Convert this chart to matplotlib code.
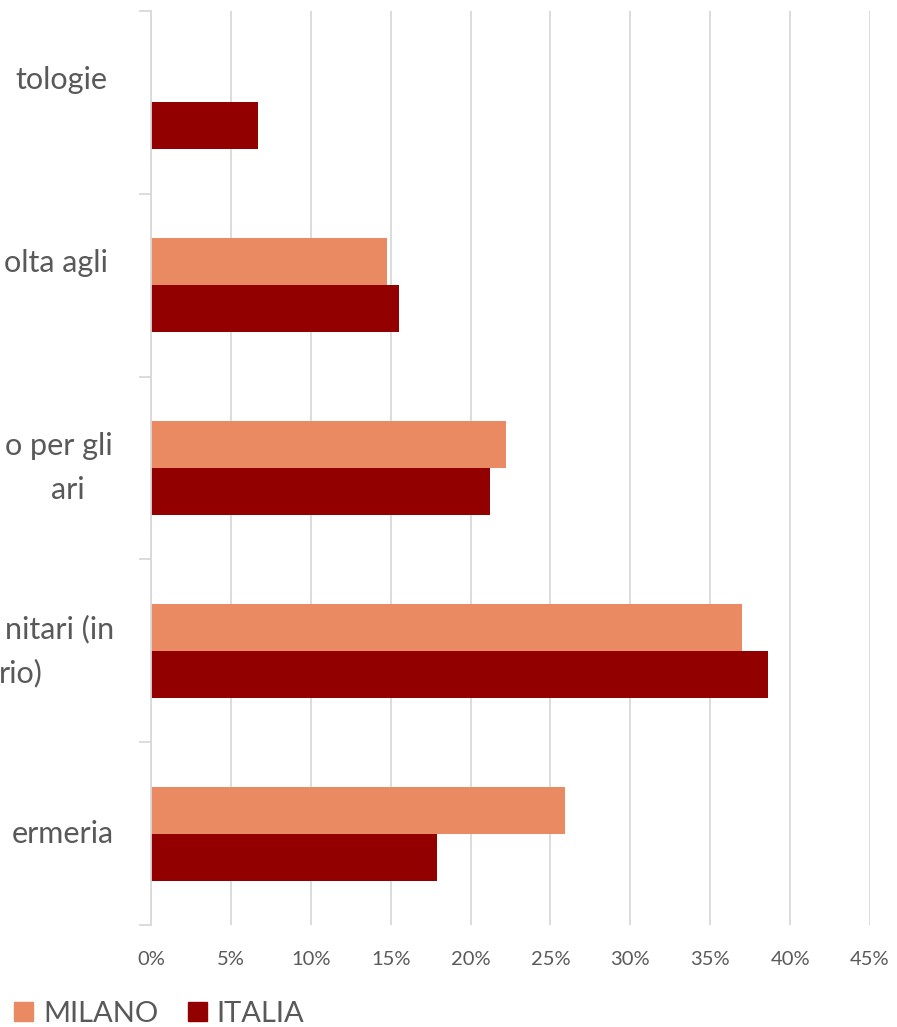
import numpy as np
import matplotlib
matplotlib.use("Agg")
import matplotlib.pyplot as plt
from matplotlib.patches import Patch

# dati (in frazione)
categorie = [["tologie", ""], ["olta agli", ""], ["o per gli", "ari"],
             ["nitari (in", "rio)"], ["ermeria"]]
milano = [0.0, 0.148, 0.222, 0.370, 0.259]
italia = [0.067, 0.155, 0.212, 0.386, 0.179]
ticks_x = [0, 0.05, 0.10, 0.15, 0.20, 0.25, 0.30, 0.35, 0.40, 0.45]
tick_labels = ["0%", "5%", "10%", "15%", "20%", "25%", "30%", "35%", "40%", "45%"]

col_milano = "#E98A62"
col_italia = "#920000"
grigio = "#595959"
linea = "#D9D9D9"

plt.rcParams['font.family'] = ['Lato', 'DejaVu Sans']

fig = plt.figure(figsize=(8.97, 10.27), dpi=100)
ax = fig.add_axes([151/897, 102/1027, 719/897, 914/1027])

y = np.arange(len(categorie))
h = 0.257
ax.barh(y - h/2, milano, height=h, color=col_milano, label="MILANO")
ax.barh(y + h/2, italia, height=h, color=col_italia, label="ITALIA")

ax.set_xlim(0, 0.45)
ax.set_ylim(len(categorie) - 0.5, -0.5)
ax.set_xticks(ticks_x)
ax.set_xticklabels(tick_labels, fontsize=14.5, color=grigio)
ax.tick_params(axis='x', length=0, pad=19)
ax.grid(axis='x', color=linea, lw=1.3)
ax.set_axisbelow(True)

ax.set_yticks(np.arange(len(categorie) + 1) - 0.5)
ax.set_yticklabels([])
ax.tick_params(axis='y', length=8.5, width=1.3, color=linea)
for s in ['top', 'right', 'bottom']:
    ax.spines[s].set_visible(False)
ax.spines['left'].set_color(linea)
ax.spines['left'].set_linewidth(1.3)

# etichette di categoria (nell'originale sono tagliate dal bordo sinistro)
tr = ax.get_yaxis_transform()
fine_riga = [[-0.061, 0], [-0.060, 0], [-0.053, -0.093], [-0.0515, -0.150], [-0.0515]]
for i, righe in enumerate(categorie):
    n = 2 if len(righe) == 2 else 1
    for j, testo in enumerate(righe):
        if not testo:
            continue
        dy = 0 if n == 1 else (-0.12 if j == 0 else 0.12)
        ax.text(fine_riga[i][j], i + dy, testo, transform=tr, ha='right', va='center',
                fontsize=22, color=grigio, clip_on=False)

handles = [Patch(color=col_milano, label="MILANO"), Patch(color=col_italia, label="ITALIA")]
fig.legend(handles=handles, loc='lower left', bbox_to_anchor=(14/897, 0.0), ncol=2,
           frameon=False, fontsize=21, labelcolor=grigio, handlelength=0.65,
           handleheight=0.65, handletextpad=0.35, columnspacing=1.0, borderpad=0,
           borderaxespad=0)

fig.savefig("out.png", dpi=100)
